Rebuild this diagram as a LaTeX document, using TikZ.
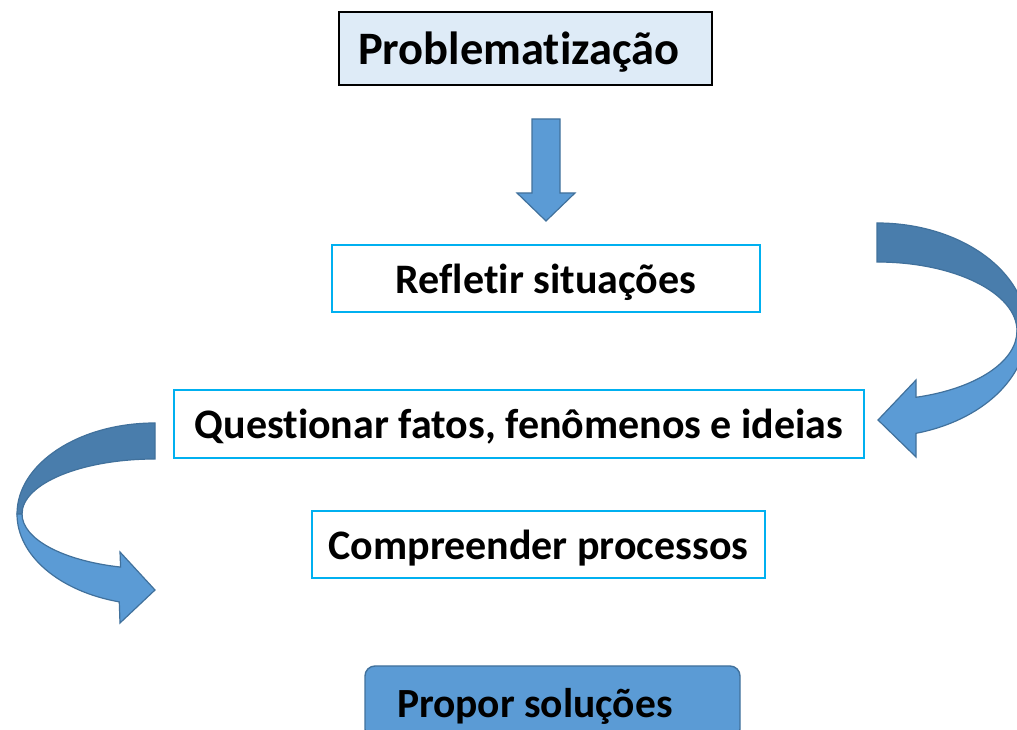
\documentclass[tikz,border=0pt]{standalone}
\usepackage{fontspec}
\setmainfont{Carlito}[Ligatures=NoCommon]
\definecolor{boxcyan}{HTML}{00B0F0}
\definecolor{paleblue}{HTML}{DEEBF7}
\definecolor{arrowblue}{HTML}{5B9BD5}
\definecolor{arrowdark}{HTML}{497DAC}
\definecolor{arrowedge}{HTML}{41719C}
\tikzset{
  stepbox/.style={draw=boxcyan, line width=1.4pt, fill=white, inner sep=0pt, text depth=0pt,
    font=\fontsize{42}{46}\selectfont\bfseries},
  probbox/.style={draw=black, line width=1.2pt, fill=paleblue, inner xsep=19pt, text depth=0pt,
    minimum width=373pt, minimum height=73pt,
    font=\fontsize{46.5}{50}\selectfont\bfseries},
  endbox/.style={draw=arrowedge, line width=1.4pt, fill=arrowblue, rounded corners=10pt,
    inner xsep=32pt, text depth=0pt, minimum width=375pt, minimum height=73pt,
    font=\fontsize{41.5}{46}\selectfont\bfseries},
  blockarrow/.style={draw=arrowedge, line width=1.2pt, fill=arrowblue, line join=miter},
  backarrow/.style={draw=arrowedge, line width=1.2pt, fill=arrowdark}
}
\begin{document}
\begin{tikzpicture}[x=1pt,y=1pt]
\useasboundingbox (0,0) rectangle (1017,730);
\clip (0,0) rectangle (1017,730);
% boxes
\node[probbox] (prob) at (525.5,681.5) {\makebox[335pt][l]{Problematização}};
\node[stepbox, minimum width=428pt, minimum height=67pt] (refl) at (546,451.5) {Refletir situações};
\node[stepbox, minimum width=690pt, minimum height=68pt] (quest) at (519,306) {Questionar fatos, fenômenos e ideias};
\node[stepbox, minimum width=453pt, minimum height=67pt] (comp) at (538.5,185.5) {Compreender processos};
\node[endbox] (prop) at (552.5,27.5) {\makebox[311pt][l]{Propor soluções}};
%
% down arrow
\filldraw[blockarrow] (532,611) -- (560,611) -- (560,537) -- (575,537) -- (546,509)
  -- (517,537) -- (532,537) -- cycle;
%
% right curved arrow
\filldraw[backarrow] (877,507) arc[start angle=90, end angle=0, x radius=150, y radius=107]
  -- (1017,399) arc[start angle=0, end angle=90, x radius=140, y radius=69] -- cycle;
\filldraw[blockarrow] (1027,400) arc[start angle=0, end angle=-74.9, x radius=150, y radius=107]
  -- (916,273) -- (878,310) -- (916,350) -- (916,332.7)
  arc[start angle=-73.8, end angle=0, x radius=140, y radius=69] -- cycle;
%
% left curved arrow
\filldraw[backarrow] (155,307) arc[start angle=90, end angle=180, x radius=138, y radius=91]
  -- (22,216) arc[start angle=180, end angle=90, x radius=133, y radius=55] -- cycle;
\filldraw[blockarrow] (17,216) arc[start angle=180, end angle=255, x radius=138, y radius=91]
  -- (120,107) -- (155,140) -- (120,178) -- (120.6,162.9)
  arc[start angle=255, end angle=180, x radius=133, y radius=55] -- cycle;
\end{tikzpicture}
\end{document}
